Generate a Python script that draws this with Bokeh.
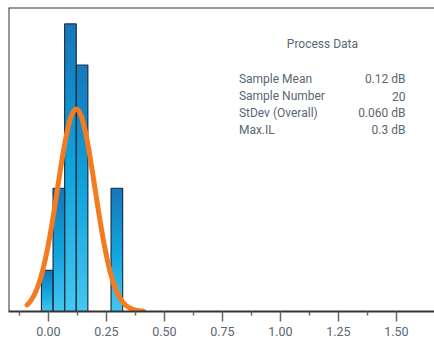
import numpy as np
from bokeh.plotting import figure
from bokeh.models import FixedTicker, NumeralTickFormatter, Span, Label, Range1d
from bokeh.embed import file_html
from bokeh.resources import INLINE

# ---- data ----
bin_centers = [-0.005, 0.045, 0.095, 0.145, 0.295]
bin_counts = [1, 3, 7, 6, 3]
bin_width = 0.05
sample_mean = 0.12
fit_sigma = 0.081
sample_n = 20
curve_x_min, curve_x_max = -0.092, 0.41
major_ticks = [0.0, 0.25, 0.5, 0.75, 1.0, 1.25, 1.5]
minor_ticks = [-0.125, 0.125, 0.375, 0.625, 0.875, 1.125, 1.375]
info_labels = ["Sample Mean", "Sample Number", "StDev (Overall)", "Max.IL"]
info_values = ["0.12 dB", "20", "0.060 dB", "0.3 dB"]
info_title = "Process Data"

FONT = "Roboto"
TXT = "#5a6672"
X0, X1 = -0.172, 1.664
Y1 = 7.4

p = figure(width=434, height=341, output_backend="svg", toolbar_location=None,
           x_range=Range1d(X0, X1), y_range=Range1d(0, Y1),
           y_axis_location=None, min_border_left=8, min_border_right=0,
           min_border_top=7, min_border_bottom=30)
p.outline_line_color = None
p.xgrid.grid_line_color = None
p.ygrid.grid_line_color = None
p.background_fill_color = "white"
p.border_fill_color = "white"

# gradient bars built from overlapping slices
def lerp(c1, c2, t):
    return tuple(int(round(a + (b - a) * t)) for a, b in zip(c1, c2))

top_c = (0x17, 0x76, 0xBC)
mid_c = (0x0F, 0xA3, 0xDC)
bot_c = (0x45, 0xC7, 0xF1)
nsl = 30
L, R, B, T, C = [], [], [], [], []
for xc, cnt in zip(bin_centers, bin_counts):
    for j in range(nsl):
        f = (j + 0.5) / nsl  # 0 bottom -> 1 top
        if f < 0.5:
            col = lerp(bot_c, mid_c, f / 0.5)
        else:
            col = lerp(mid_c, top_c, (f - 0.5) / 0.5)
        L.append(xc - bin_width / 2)
        R.append(xc + bin_width / 2)
        B.append(cnt * j / nsl)
        T.append(cnt * min(j + 2, nsl) / nsl)
        C.append("#%02x%02x%02x" % col)
p.quad(left=L, right=R, bottom=B, top=T, fill_color=C, line_color=None)
p.quad(left=[c - bin_width / 2 for c in bin_centers],
       right=[c + bin_width / 2 for c in bin_centers],
       bottom=0, top=bin_counts, fill_color=None,
       line_color="#1e3446", line_width=1.2)

# fitted normal curve
xs = np.linspace(curve_x_min, curve_x_max, 300)
ys = sample_n * bin_width * np.exp(-0.5 * ((xs - sample_mean) / fit_sigma) ** 2) / (fit_sigma * np.sqrt(2 * np.pi))
p.line(xs, ys, line_color="#F47B20", line_width=5, line_cap="round", line_join="round")

# frame lines (left, top)
p.add_layout(Span(location=X0, dimension="height", line_color="#333333", line_width=2))
p.add_layout(Span(location=Y1, dimension="width", line_color="#333333", line_width=2))

ax = p.xaxis[0]
ax.ticker = FixedTicker(ticks=major_ticks, minor_ticks=minor_ticks)
ax.formatter = NumeralTickFormatter(format="0.00")
ax.axis_line_color = "#333333"
ax.axis_line_width = 2
ax.major_tick_line_color = "#666666"
ax.major_tick_line_width = 1.5
ax.minor_tick_line_color = "#666666"
ax.minor_tick_line_width = 1.5
ax.major_tick_in = 0
ax.major_tick_out = 10
ax.minor_tick_in = 0
ax.minor_tick_out = 4
ax.major_label_standoff = 5
ax.major_label_text_font = FONT
ax.major_label_text_font_size = "12.5px"
ax.major_label_text_color = TXT

# info text
p.add_layout(Label(x=1.181, y=6.50, text=info_title, text_align="center",
                   text_baseline="middle", text_font=FONT, text_font_size="12px",
                   text_color=TXT))
row_y = [5.65, 5.24, 4.82, 4.41]
for lab, val, yy in zip(info_labels, info_values, row_y):
    p.add_layout(Label(x=0.821, y=yy, text=lab, text_align="left", text_baseline="middle",
                       text_font=FONT, text_font_size="12px", text_color=TXT))
    p.add_layout(Label(x=1.539, y=yy, text=val, text_align="right", text_baseline="middle",
                       text_font=FONT, text_font_size="12px", text_color=TXT))

open("out.html", "w").write(file_html(p, INLINE))
